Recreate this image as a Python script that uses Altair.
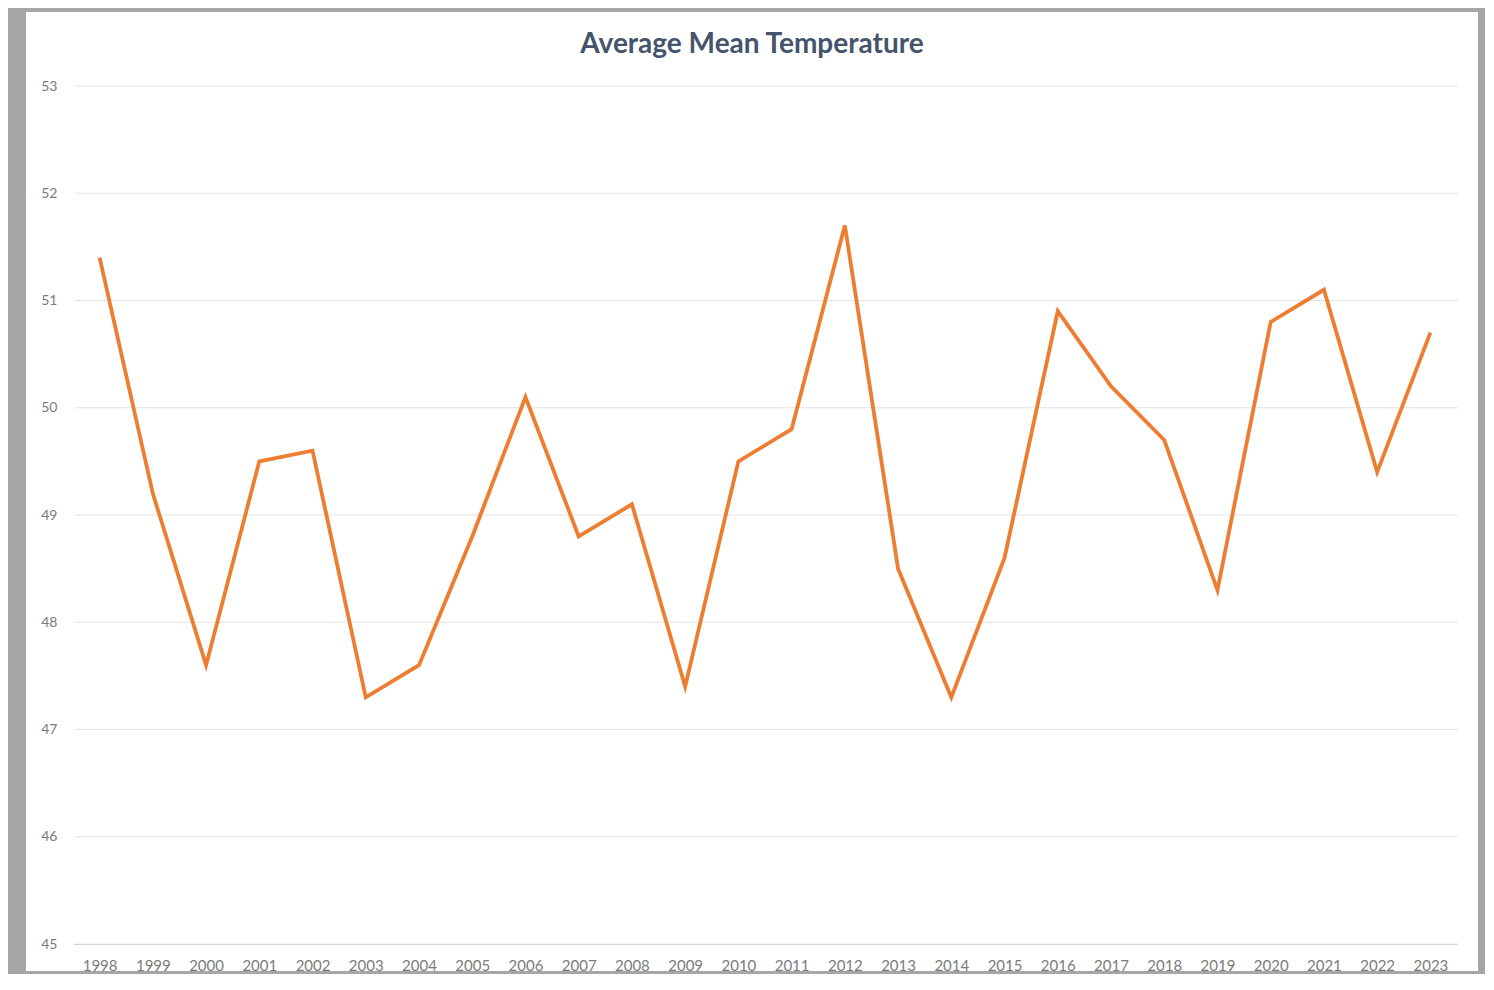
import altair as alt
import pandas as pd

title_text = "Average Mean Temperature"
years = [str(y) for y in range(1998, 2024)]
temps = [51.4, 49.2, 47.6, 49.5, 49.6, 47.3, 47.6, 48.8, 50.1, 48.8, 49.1, 47.4, 49.5,
         49.8, 51.7, 48.5, 47.3, 48.6, 50.9, 50.2, 49.7, 48.3, 50.8, 51.1, 49.4, 50.7]
y_ticks = [45, 46, 47, 48, 49, 50, 51, 52, 53]

df = pd.DataFrame({"Year": years, "Temp": temps})
grid_df = pd.DataFrame({"v": y_ticks})
frame_df = pd.DataFrame({"title": [title_text]})

W, H = 1384, 858
label_color = "#7b7b7b"

y_scale = alt.Scale(domain=[45, 53], nice=False, zero=False)
y_axis = alt.Axis(values=y_ticks, grid=False, domain=False, ticks=False, labelPadding=16,
                  labelFontSize=14, labelColor=label_color, labelFont="Lato", title=None, zindex=1)

frame = alt.Chart(frame_df).mark_rect(color="white").encode(
    x=alt.value(-47), x2=alt.value(W + 21), y=alt.value(-74), y2=alt.value(H + 27)
)

title = alt.Chart(frame_df).mark_text(
    font="Lato", fontSize=28, fontWeight="bold", color="#44546a",
    align="center", baseline="alphabetic"
).encode(text="title:N", x=alt.value(W / 2 - 13), y=alt.value(-33))

grid = alt.Chart(grid_df).mark_rule(color="#e3e3e3", strokeWidth=1).encode(
    y=alt.Y("v:Q", scale=y_scale, axis=y_axis),
    x=alt.value(2), x2=alt.value(W + 1),
)

line = alt.Chart(df).mark_line(color="#ed7d31", strokeWidth=3.8).encode(
    x=alt.X("Year:O", sort=years, scale=alt.Scale(type="point", padding=0.5),
            axis=alt.Axis(labelAngle=0, domain=True, domainColor="#d4d4d4", ticks=False,
                          labelPadding=14, labelFontSize=15, labelColor=label_color,
                          labelFont="Lato", title=None, zindex=1)),
    y=alt.Y("Temp:Q", scale=y_scale, axis=y_axis),
)

chart = alt.layer(frame, title, grid, line).properties(
    width=W, height=H,
    autosize=alt.AutoSizeParams(type="none"),
    padding={"left": 65, "top": 78, "right": 28, "bottom": 30},
    background="#a6a6a6",
).configure_view(stroke=None)

chart.save("out.html", embed_options={"renderer": "svg", "actions": False})
